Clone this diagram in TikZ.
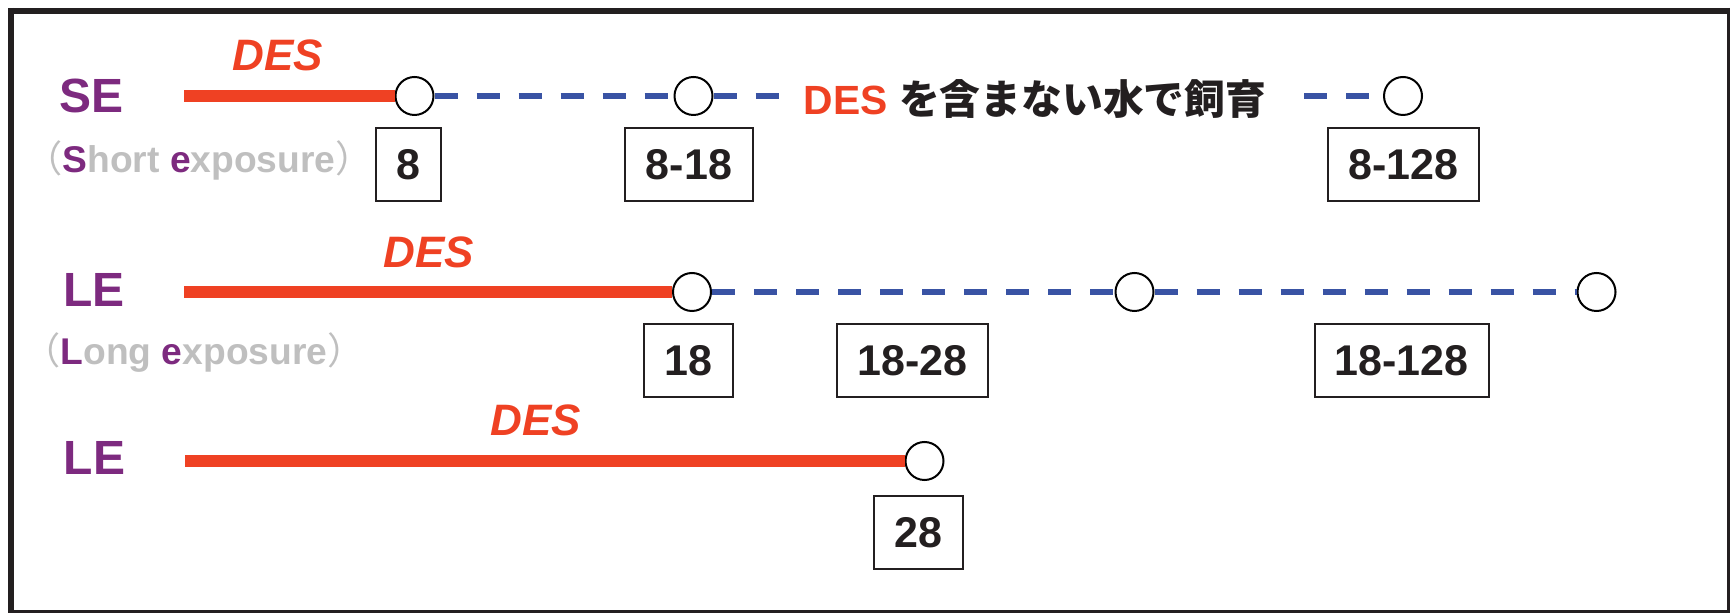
\documentclass[tikz,border=0pt]{standalone}
\usepackage{fontspec}
\setmainfont{Liberation Sans}
\newfontfamily\jp{Noto Sans CJK JP}
\definecolor{sepurple}{HTML}{7D2A7F}
\definecolor{desred}{HTML}{EF4123}
\definecolor{dashblue}{HTML}{3953A4}
\definecolor{lgray}{HTML}{BFBFBF}
\definecolor{ink}{HTML}{231F20}
\tikzset{
  rowlabel/.style={anchor=base, text=sepurple, font=\fontsize{24}{28}\selectfont\bfseries, inner sep=0},
  deslabel/.style={anchor=base, text=desred, font=\fontsize{22}{26}\selectfont\bfseries\itshape, inner sep=0},
  sublabel/.style={anchor=base, text=lgray, font=\fontsize{18.6}{22}\selectfont\bfseries, inner sep=0},
  dot/.style={circle, draw=black, fill=white, line width=1pt, minimum size=19pt, inner sep=0},
  daybox/.style={draw=ink, line width=1pt, text=ink, font=\fontsize{21.5}{25}\selectfont\bfseries, inner sep=0, minimum height=36.5pt},
  exposure/.style={desred, line width=6pt},
  rinse/.style={dashblue, line width=3pt, dash pattern=on 11.5pt off 9.5pt},
  framethick/.style={ink, line width=3pt},
  framethin/.style={ink, line width=1.5pt},
}
\begin{document}
\begin{tikzpicture}[x=0.5pt,y=-0.5pt]
\useasboundingbox (0,0) rectangle (1733,613);
% frame
\draw[framethick] (8,11) -- (1730,11);
\draw[framethick] (11,8) -- (11,613);
\draw[framethin] (1728.5,8) -- (1728.5,612);
\draw[framethin] (8,611.5) -- (1730,611.5);

% row labels
\node[rowlabel] (se) at (91.5,113) {SE};
\node[sublabel] (sesub) at (199,173) {{\mdseries\jp （}\textcolor{sepurple}{S}hort \textcolor{sepurple}{e}xposure{\mdseries\jp ）}};
\node[rowlabel] (le1) at (94,307) {LE};
\node[sublabel] (lesub) at (194,365) {{\mdseries\jp （}\textcolor{sepurple}{L}ong \textcolor{sepurple}{e}xposure{\mdseries\jp ）}};
\node[rowlabel] (le2) at (94.5,475) {LE};

% DES labels
\node[deslabel] (d1) at (277.5,71) {DES};
\node[deslabel] (d2) at (428.5,268) {DES};
\node[deslabel] (d3) at (535.5,436) {DES};

% circles
\node[dot] (c1) at (414.5,96) {};
\node[dot] (c2) at (693.5,96) {};
\node[dot] (c3) at (1403,96) {};
\node[dot] (c4) at (692,292) {};
\node[dot] (c5) at (1134.5,292) {};
\node[dot] (c6) at (1596.5,292) {};
\node[dot] (c7) at (924.5,461) {};

% start points
\coordinate (s1) at (184,96);
\coordinate (s2) at (184,292);
\coordinate (s3) at (185,461);

% exposure lines
\draw[exposure] (s1) -- (c1);
\draw[exposure] (s2) -- (c4);
\draw[exposure] (s3) -- (c7);

% rinse text
\node[anchor=base, inner sep=0, text=ink, font=\fontsize{20.4}{24}\selectfont\bfseries] (txt) at (1035,115)
  {\textcolor{desred}{DES} {\jp を含まない水で飼育}};
\coordinate (tl) at (781,96);
\coordinate (tr) at (1304,96);

% dashed lines
\draw[rinse] (c1) -- (c2);
\draw[rinse] (c2) -- (tl);
\draw[rinse] (tr) -- (c3);
\draw[rinse] (c4) -- (c5);
\draw[rinse] (c5) -- (c6);

% day boxes
\node[daybox, minimum width=32.5pt] (b8) at (408.5,165) {8};
\node[daybox, minimum width=64pt] (b818) at (689,165) {8-18};
\node[daybox, minimum width=75.5pt] (b8128) at (1403.5,165) {8-128};
\node[daybox, minimum width=44.5pt] (b18) at (688.5,360.5) {18};
\node[daybox, minimum width=75.5pt] (b1828) at (912.5,360.5) {18-28};
\node[daybox, minimum width=87pt] (b18128) at (1401.5,360.5) {18-128};
\node[daybox, minimum width=44.5pt] (b28) at (918.5,532.5) {28};
\end{tikzpicture}
\end{document}
